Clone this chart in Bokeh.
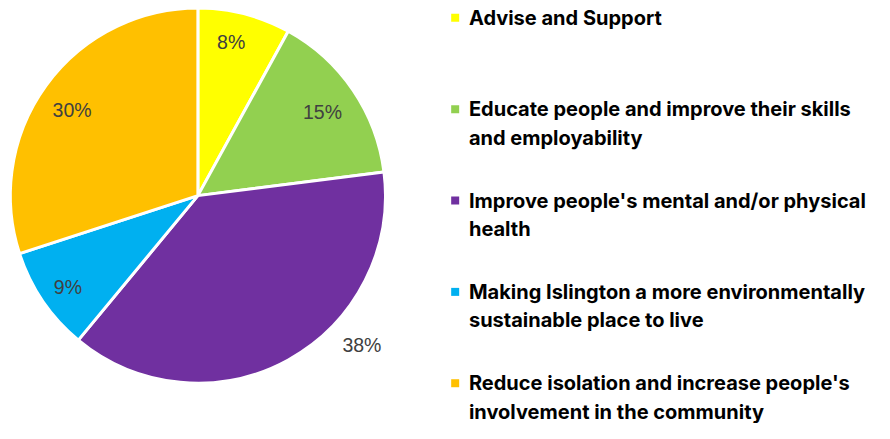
import math
from bokeh.plotting import figure
from bokeh.models import Range1d, ColumnDataSource
from bokeh.core.properties import value
from bokeh.embed import file_html
from bokeh.resources import INLINE

# ---- data ----
categories = [
    "Advise and Support",
    "Educate people and improve their skills\nand employability",
    "Improve people's mental and/or physical\nhealth",
    "Making Islington a more environmentally\nsustainable place to live",
    "Reduce isolation and increase people's\ninvolvement in the community",
]
percent = [8, 15, 38, 9, 30]

# ---- style ----
colors = ["#FFFF00", "#92D050", "#7030A0", "#00B0F0", "#FFC000"]
label_dist = [163, 154, 228, 163, 156]               # from centre (layout units)
label_angle_shift = [-2.4, -0.3, -18.3, -1.5, -1.2]  # degrees, clockwise from mid-angle

W, H = 874, 423          # figure size (fits the 890x439 window with 8px margin)
RW, RH = 890, 439        # layout coordinate space
cx, cy, R = 201, RH - 202.5, 191

p = figure(width=W, height=H, output_backend="svg", toolbar_location=None,
           x_range=Range1d(0, RW), y_range=Range1d(0, RH),
           x_axis_location=None, y_axis_location=None, min_border=0)
p.outline_line_color = None
p.grid.visible = False
p.background_fill_color = "white"
p.border_fill_color = "white"

total = float(sum(percent))
starts, ends, lx, ly = [], [], [], []
cum = 0.0
for i, v in enumerate(percent):
    a0 = cum / total * 2 * math.pi
    cum += v
    a1 = cum / total * 2 * math.pi
    starts.append(math.pi / 2 - a0)
    ends.append(math.pi / 2 - a1)
    mid = (a0 + a1) / 2 + math.radians(label_angle_shift[i])
    lx.append(cx + label_dist[i] * math.sin(mid))
    ly.append(cy + label_dist[i] * math.cos(mid))

src = ColumnDataSource(dict(start=starts, end=ends, color=colors,
                            lx=lx, ly=ly, lab=[f"{v}%" for v in percent]))
p.wedge(x=cx, y=cy, radius=R, start_angle="start", end_angle="end",
        direction="clock", fill_color="color", line_color="white",
        line_width=3, source=src)
p.text(x="lx", y="ly", text="lab", source=src, text_align="center",
       text_baseline="middle", text_font=value("Liberation Sans"),
       text_font_size="19.5px", text_color="#404040")

# ---- legend ----
mx, tx = 463, 477
top_y = RH - 18
item_gap, line_gap = 94.8, 29.5
for i, (cat, c) in enumerate(zip(categories, colors)):
    y0 = top_y - i * item_gap
    p.rect(x=mx, y=y0, width=8, height=8, height_units="screen",
           width_units="screen", fill_color=c, line_color=None)
    lines = cat.split("\n")
    p.text(x=[tx] * len(lines), y=[y0 - k * line_gap for k in range(len(lines))],
           text=lines, text_align="left", text_baseline="middle",
           text_font=value("Inter"), text_font_style="bold",
           text_font_size="20px", text_color="#000000")

open("out.html", "w").write(file_html(p, INLINE))
